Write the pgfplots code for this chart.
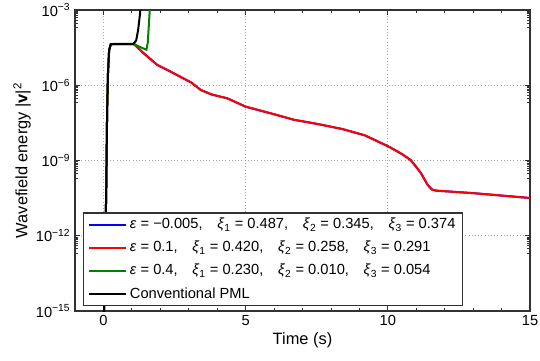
\documentclass[border=0pt]{standalone}
\usepackage{pgfplots}
\pgfplotsset{compat=1.18}
\usepackage{fontspec}
\setmainfont{Liberation Sans}
\definecolor{axgray}{RGB}{50,50,50}
\definecolor{lblue}{RGB}{0,0,255}
\definecolor{lred}{RGB}{255,0,0}
\definecolor{lgreen}{RGB}{0,128,0}
\newcommand{\eps}{\textit{ε}}
\newcommand{\xii}[1]{\textit{ξ}\textsubscript{#1}}
\begin{document}
\begin{tikzpicture}
\useasboundingbox (-56.25pt,-37.5pt) rectangle (348.75pt,233.25pt);
\begin{axis}[
    scale only axis,
    width=341.25pt,
    height=225.75pt,
    at={(0pt,0pt)},
    anchor=south west,
    ymode=log,
    xmin=-1, xmax=15,
    ymin=1e-15, ymax=1e-3,
    xtick={0,5,10,15},
    xticklabels={0,5,10,15},
    minor xtick={-1,1,2,3,4,6,7,8,9,11,12,13,14},
    ytick={1e-15,1e-12,1e-9,1e-6,1e-3},
    yticklabels={10\textsuperscript{−15},10\textsuperscript{−12},10\textsuperscript{−9},10\textsuperscript{−6},10\textsuperscript{−3}},
    minor ytick={2e-16,3e-16,4e-16,5e-16,6e-16,7e-16,8e-16,9e-16,
                 2e-13,3e-13,4e-13,5e-13,6e-13,7e-13,8e-13,9e-13,
                 2e-10,3e-10,4e-10,5e-10,6e-10,7e-10,8e-10,9e-10,
                 2e-7,3e-7,4e-7,5e-7,6e-7,7e-7,8e-7,9e-7,
                 2e-4,3e-4,4e-4,5e-4,6e-4,7e-4,8e-4,9e-4},
    tick pos=both,
    tick align=inside,
    major tick length=3.5pt,
    minor tick length=2pt,
    every tick/.style={axgray, line width=0.6pt},
    tick label style={font=\fontsize{11}{13}\selectfont},
    axis line style={axgray, line width=0.9pt},
    grid=major,
    major grid style={gray!70, dotted, line width=0.7pt},
    xlabel={Time (s)},
    ylabel={Wavefield energy |\textbf{v}|\textsuperscript{2}},
    label style={font=\fontsize{12.3}{14}\selectfont},
    xlabel style={yshift=2pt},
    ylabel style={yshift=-3pt},
    legend style={
        at={(0.017,0.017)}, anchor=south west,
        draw=axgray, line width=0.8pt,
        font=\fontsize{11}{13}\selectfont,
        row sep=3.8pt,
        inner xsep=3.5pt, inner ysep=2pt,
        legend cell align=left,
    },
    legend image code/.code={
        \path (0pt,0pt) -- (28pt,0pt);
        \draw[#1, line width=1pt] (2.5pt,0pt) -- (20pt,0pt);
    },
]
% epsilon = -0.005
\addplot[lblue, line width=1.5pt] coordinates {
    (0.0,1e-16) (0.06,1e-13) (0.1,1e-10) (0.13,1e-7) (0.16,3e-6) (0.2,2.5e-5) (0.26,4.4e-5)
    (1.07,4.4e-5) (1.42,1.86e-5) (1.89,6.5e-6) (2.36,3.5e-6) (3.1,1.26e-6) (3.42,6.5e-7)
    (3.8,4.3e-7) (4.36,3e-7) (5.0,1.4e-7) (6.0,7e-8) (6.7,4.2e-8) (7.5,2.9e-8) (8.4,1.8e-8)
    (9.2,1e-8) (10.05,3.5e-9) (10.5,1.8e-9) (10.8,1.05e-9) (11.0,5.5e-10) (11.16,3.2e-10)
    (11.4,1.07e-10) (11.55,7e-11) (11.69,6.3e-11) (13.0,5e-11) (14.0,4e-11) (15.0,3.2e-11)
};
\addlegendentry{\eps\ = −0.005,\quad \xii{1} = 0.487,\quad \xii{2} = 0.345,\quad \xii{3} = 0.374}
% epsilon = 0.1
\addplot[lred, line width=1.5pt] coordinates {
    (0.0,1e-16) (0.06,1e-13) (0.1,1e-10) (0.13,1e-7) (0.16,3e-6) (0.2,2.5e-5) (0.26,4.4e-5)
    (1.07,4.4e-5) (1.42,1.86e-5) (1.89,6.5e-6) (2.36,3.5e-6) (3.1,1.26e-6) (3.42,6.5e-7)
    (3.8,4.3e-7) (4.36,3e-7) (5.0,1.4e-7) (6.0,7e-8) (6.7,4.2e-8) (7.5,2.9e-8) (8.4,1.8e-8)
    (9.2,1e-8) (10.05,3.5e-9) (10.5,1.8e-9) (10.8,1.05e-9) (11.0,5.5e-10) (11.16,3.2e-10)
    (11.4,1.07e-10) (11.55,7e-11) (11.69,6.3e-11) (13.0,5e-11) (14.0,4e-11) (15.0,3.2e-11)
};
\addlegendentry{\eps\ = 0.1,\quad \xii{1} = 0.420,\quad \xii{2} = 0.258,\quad \xii{3} = 0.291}
% epsilon = 0.4
\addplot[lgreen, line width=1.5pt] coordinates {
    (0.0,1e-16) (0.06,1e-13) (0.1,1e-10) (0.13,1e-7) (0.16,3e-6) (0.2,2.5e-5) (0.26,4.4e-5)
    (1.07,4.4e-5) (1.3,3.3e-5) (1.51,2.6e-5) (1.56,5e-5) (1.6,3e-4) (1.63,1e-3) (1.66,1e-2)
};
\addlegendentry{\eps\ = 0.4,\quad \xii{1} = 0.230,\quad \xii{2} = 0.010,\quad \xii{3} = 0.054}
% conventional PML
\addplot[black, line width=1.5pt] coordinates {
    (0.0,1e-16) (0.06,1e-13) (0.1,1e-10) (0.13,1e-7) (0.16,3e-6) (0.2,2.5e-5) (0.26,4.4e-5)
    (1.05,4.5e-5) (1.15,6e-5) (1.22,1.6e-4) (1.28,6e-4) (1.32,2e-3) (1.36,1e-2)
};
\addlegendentry{Conventional PML}
\end{axis}
\end{tikzpicture}
\end{document}
